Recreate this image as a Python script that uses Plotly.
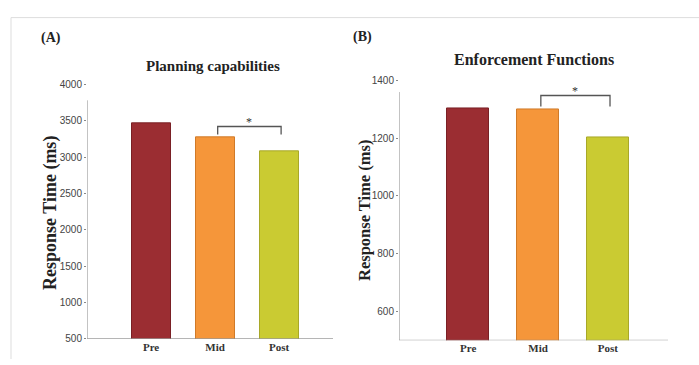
import plotly.graph_objects as go

categories = ["Pre", "Mid", "Post"]
planning_values = [3460, 3265, 3085]
enforcement_values = [1304, 1298, 1202]
bar_colors = ["#9B2D32", "#F5963A", "#CACB32"]
bar_edges = ["#7A2025", "#D07A28", "#A8A828"]
planning_ticks = [500, 1000, 1500, 2000, 2500, 3000, 3500, 4000]
enforcement_ticks = [600, 800, 1000, 1200, 1400]
panel_titles = ["Planning capabilities", "Enforcement Functions"]
panel_letters = ["(A)", "(B)"]
y_title = "Response Time (ms)"

W, H = 699, 365
def px(x):
    return x / W
def py(y):
    return (H - y) / H

fig = go.Figure()

fig.add_trace(go.Bar(
    x=categories, y=planning_values,
    marker=dict(color=bar_colors, line=dict(color=bar_edges, width=1)),
    width=0.61, xaxis="x", yaxis="y", showlegend=False, hoverinfo="skip"))
fig.add_trace(go.Bar(
    x=categories, y=enforcement_values,
    marker=dict(color=bar_colors, line=dict(color=bar_edges, width=1)),
    width=0.6, xaxis="x2", yaxis="y2", showlegend=False, hoverinfo="skip"))

tickfont = dict(family="Liberation Sans Narrow, Liberation Sans, Arial", size=10, color="#444")
catfont = dict(family="Liberation Serif, Times New Roman", size=11, color="#333")

common_x = dict(type="category", showgrid=False, zeroline=False, showline=False,
                ticks="", tickfont=catfont, fixedrange=True)
common_y = dict(showgrid=False, zeroline=False, showline=False, ticks="outside",
                ticklen=2, tickcolor="#888", tickfont=tickfont, fixedrange=True)

fig.update_layout(
    width=W, height=H, margin=dict(l=0, r=0, t=0, b=0),
    paper_bgcolor="white", plot_bgcolor="rgba(0,0,0,0)",
    bargap=0,
    xaxis=dict(common_x, domain=[px(87), px(333)], range=[-1.0, 2.84], anchor="y"),
    yaxis=dict(common_y, domain=[py(344), py(81)], range=[500, 4000],
               tickvals=planning_ticks, anchor="x"),
    xaxis2=dict(common_x, domain=[px(399), px(668)], range=[-0.99, 2.86], anchor="y2"),
    yaxis2=dict(common_y, domain=[py(345.7), py(77)], range=[500, 1400],
                tickvals=enforcement_ticks, anchor="x2"),
)

shapes = []
shapes.append(dict(type="line", xref="paper", yref="paper", x0=px(11), x1=1, y0=py(12), y1=py(12),
                   line=dict(color="#DDDDDD", width=1)))
shapes.append(dict(type="line", xref="paper", yref="paper", x0=px(11), x1=px(11), y0=py(12), y1=0,
                   line=dict(color="#DDDDDD", width=1)))

axis_col = "#888888"
for xa, ya, rng_x, ytop in [("x", "y", [-1.0, 2.84], 3780), ("x2", "y2", [-0.99, 2.86], 1360)]:
    ybot = 500
    shapes.append(dict(type="line", xref=xa, yref=ya, x0=rng_x[0], x1=rng_x[0], y0=ybot, y1=ytop,
                       line=dict(color=axis_col, width=1)))
    shapes.append(dict(type="line", xref=xa, yref=ya, x0=rng_x[0], x1=rng_x[1], y0=ybot, y1=ybot,
                       line=dict(color=axis_col, width=1)))

def bracket(xa, ya, vals, top_off, leg, star_off):
    top = max(vals[1], vals[2]) + top_off
    x0, x1 = 1.04, 2.03
    shapes.append(dict(type="path", xref=xa, yref=ya,
                       path=f"M {x0},{top - leg} L {x0},{top} L {x1},{top} L {x1},{top - leg}",
                       line=dict(color="#555555", width=1.3)))
    fig.add_annotation(x=(x0 + x1) / 2, y=top + star_off, xref=xa, yref=ya, text="*",
                       showarrow=False, xanchor="center", yanchor="middle",
                       font=dict(family="Liberation Serif", size=12, color="#333"))

bracket("x", "y", planning_values, 155, 110, 60)
bracket("x2", "y2", enforcement_values, 50, 38, 14)

fig.update_layout(shapes=shapes)

def label(x, y, text, font, angle=0):
    fig.add_annotation(x=px(x), y=py(y), xref="paper", yref="paper", text=text,
                       textangle=angle, showarrow=False, xanchor="center", yanchor="middle",
                       font=font)

titlefont = dict(family="Liberation Serif, Times New Roman", size=15, color="#222")
label(213, 62, f"<b>{panel_titles[0]}</b>", titlefont)
label(534, 55, f"<b>{panel_titles[1]}</b>", dict(titlefont, size=16))
letterfont = dict(family="Liberation Serif, Times New Roman", size=14, color="#222")
label(51, 33, f"<b>{panel_letters[0]}</b>", letterfont)
label(362, 32, f"<b>{panel_letters[1]}</b>", letterfont)
ytfont = dict(family="Liberation Serif, Times New Roman", size=18, color="#222")
label(51, 214, f"<b>{y_title}</b>", ytfont, -90)
label(364, 212, f"<b>{y_title}</b>", dict(ytfont, size=16.5), -90)

fig.update_xaxes(tickvals=categories, ticktext=[f"<b>{c}</b>" for c in categories])

fig.write_html("out.html")
